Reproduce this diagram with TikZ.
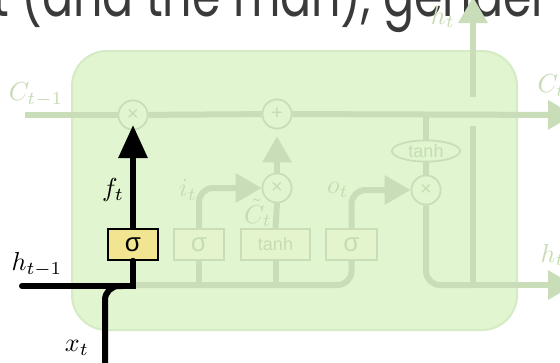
\documentclass[tikz,border=0pt]{standalone}
\usepackage{fontspec}
\newfontfamily\popfont{Poppins}
\newfontfamily\sansf{Liberation Sans}
\usetikzlibrary{arrows.meta,shapes.geometric}
\definecolor{cellbg}{HTML}{E0F5D0}
\definecolor{cellrim}{HTML}{D4EBC4}
\definecolor{fadeln}{HTML}{C9DEB8}
\definecolor{fadetx}{HTML}{C6DCB4}
\definecolor{fadebox}{HTML}{E4F4CD}
\definecolor{gatey}{HTML}{F2E592}
\definecolor{toptext}{HTML}{3A3A3A}
\tikzset{
  cellbox/.style={draw=cellrim,line width=2pt,fill=cellbg,rounded corners=35pt,minimum width=445pt,minimum height=279pt},
  fadeline/.style={draw=fadeln,line width=6pt},
  fadearrow/.style={fadeline,-{Triangle[length=26pt,width=28pt]}},
  fadecirc/.style={circle,draw=fadeln,line width=1.6pt,fill=cellbg,minimum size=29pt,inner sep=0pt,text=fadetx,font=\sansf\fontsize{20}{20}\selectfont},
  fadegate/.style={draw=fadeln,line width=1.6pt,fill=fadebox,minimum height=31pt,inner sep=0pt,text=fadetx,font=\sansf\fontsize{26}{26}\selectfont},
  fadetanh/.style={ellipse,draw=fadeln,line width=1.6pt,fill=cellbg,minimum width=68pt,minimum height=21pt,inner sep=0pt,text=fadetx,font=\sansf\fontsize{18}{18}\selectfont},
  fadelabel/.style={text=fadetx,inner sep=0pt,scale=2.6},
  blacklabel/.style={text=black,inner sep=0pt,scale=2.6},
  blackline/.style={draw=black,line width=6pt},
  blackgate/.style={draw=black,line width=1.6pt,fill=gatey,minimum width=50pt,minimum height=31pt,inner sep=0pt,font=\sansf\fontsize{26}{26}\selectfont}
}
\begin{document}
\begin{tikzpicture}[x=1pt,y=-1pt]
\useasboundingbox (0,0) rectangle (560,362);
\clip (0,0) rectangle (560,362);
\fill[white] (0,0) rectangle (560,362);
% top text, only its lower part is visible
\node[anchor=base west,inner sep=0pt,yscale=1.3,text=toptext,font=\popfont\fontsize{46}{46}\selectfont] (toptxt) at (-8,16) {t (and the man), gender};
% cell
\node[cellbox] (cell) at (294.5,190.5) {};
% coordinates
\coordinate (cin) at (25,115);
\coordinate (cout) at (574,115);
\coordinate (htop) at (473,-3);
\coordinate (hbridge) at (473,97);
\coordinate (hjoin) at (473,285);
\coordinate (hright) at (574,285);
\coordinate (ojoin) at (426,115);
\coordinate (bline) at (133,285);
% faded nodes (placed first to be able to name them)
\node[fadecirc] (fx) at (133,115) {};
\node[fadecirc] (plus) at (277,114) {};
\node[fadecirc] (ix) at (277,188) {};
\node[fadecirc] (ox) at (426,190) {};
\node[fadetanh] (tanhe) at (426,151) {};
\node[fadegate,minimum width=50pt] (sigi) at (199,244.5) {};
\node[fadegate,minimum width=69pt] (tanhb) at (275.5,244.5) {};
\node[fadegate,minimum width=51pt] (sigo) at (351.5,244.5) {};
% faded connectors
\draw[fadeline] (cin) -- (fx);
\draw[fadeline] (fx) -- (plus);
\draw[fadearrow] (plus) -- (cout);
\draw[fadeline] (ojoin) -- (tanhe.north);
\draw[fadeline] (tanhe.south) -- (ox.north);
\draw[fadeline,rounded corners=14pt] (ox.south) -- (426,285) -- (hjoin);
\draw[fadearrow] (hjoin) -- (hright);
\draw[fadeline] (hjoin) -- (473,126);
\draw[fadearrow] (hbridge) -- (htop);
\draw[fadeline,rounded corners=14pt] (bline) -- (351.5,285) -- (sigo.south);
\draw[fadeline] (sigi.south) -- (199,285);
\draw[fadeline] (tanhb.south) -- (275.5,285);
\draw[fadearrow,rounded corners=14pt] (sigi.north) -- (199,188) -- (ix.west);
\draw[fadeline] (tanhb.north) -- (ix.south);
\draw[fadearrow,shorten >=7pt] (ix.north) -- (plus.south);
\draw[fadearrow,rounded corners=14pt] (sigo.north) -- (351.5,190) -- (ox.west);
% faded nodes drawn over the lines
\node[fadecirc] (fxb) at (fx) {×};
\node[fadecirc] (plusb) at (plus) {+};
\node[fadecirc] (ixb) at (ix) {×};
\node[fadecirc] (oxb) at (ox) {×};
\node[fadetanh] (tanheb) at (tanhe) {tanh};
\node[fadegate,minimum width=50pt] (sigib) at (sigi) {σ};
\node[fadegate,minimum width=69pt,font=\sansf\fontsize{18}{18}\selectfont] (tanhbb) at (tanhb) {tanh};
\node[fadegate,minimum width=51pt] (sigob) at (sigo) {σ};
% faded labels
\node[fadelabel] (lc) at (36,95) {$C_{t-1}$};
\node[fadelabel] (lit) at (188,190) {$i_t$};
\node[fadelabel] (lot) at (338,190) {$o_t$};
\node[fadelabel] (lct) at (258,213) {$\tilde{C}_t$};
\node[fadelabel] (lht) at (443,17) {$h_t$};
\node[fadelabel,anchor=west] (lcr) at (537,86) {$C_t$};
\node[fadelabel,anchor=west] (lhr) at (540,255) {$h_t$};
% forget gate (highlighted)
\node[blackgate] (sf) at (133,244.5) {σ};
\coordinate (hin) at (22,286);
\coordinate (xin) at (105,370);
\draw[blackline,line cap=round] (hin) -- (133,286) -- (sf.south);
\draw[blackline,rounded corners=14pt] (xin) -- (105,286) -- (122,286);
\draw[blackline,-{Triangle[length=33pt,width=28pt]}] (sf.north) -- (133,125);
\node[blacklabel] (lft) at (113,190) {$f_t$};
\node[blacklabel] (lhin) at (37,265) {$h_{t-1}$};
\node[blacklabel] (lxt) at (77,348) {$x_t$};
\end{tikzpicture}
\end{document}
